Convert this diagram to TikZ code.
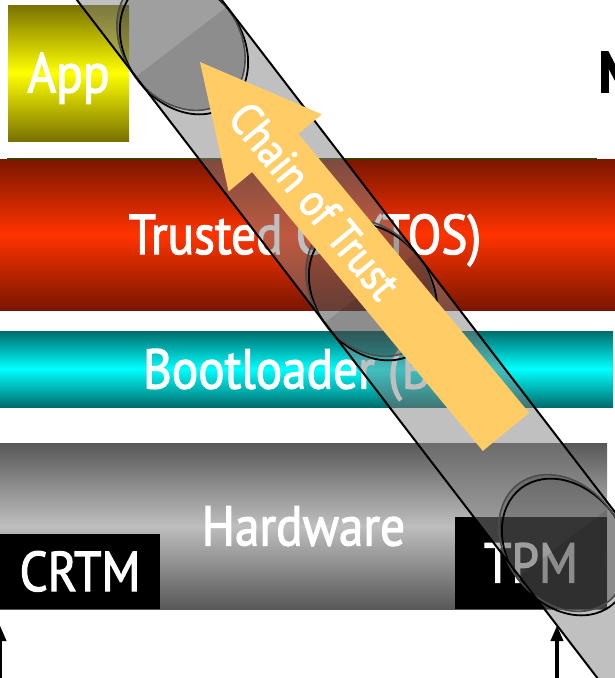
\documentclass[tikz,border=0pt]{standalone}
\usepackage{fontspec}
\setmainfont{PT Sans}[FakeStretch=0.88, FakeBold=2]
\usetikzlibrary{arrows.meta}

\definecolor{appolive}{RGB}{120,114,0}
\definecolor{appyellow}{RGB}{255,255,0}
\definecolor{tosdark}{RGB}{122,22,0}
\definecolor{tosred}{RGB}{255,51,0}
\definecolor{bldark}{RGB}{0,108,108}
\definecolor{blcyan}{RGB}{0,255,255}
\definecolor{hwdark}{RGB}{88,88,88}
\definecolor{hwlight}{RGB}{190,190,190}
\definecolor{tubegray}{RGB}{129,129,129}
\definecolor{trustorange}{RGB}{255,204,102}
\definecolor{rulegreen}{RGB}{0,100,0}

\tikzset{
  layer/.style={inner sep=0pt, text=white, font=\fontsize{56}{56}\selectfont,
    text height=39pt, text depth=0pt},
  band/.style 2 args={layer, top color=#1, bottom color=#1, middle color=#2},
  chip/.style={layer, fill=black},
  feed/.style={-{Triangle[width=12pt,length=16pt]}, line width=4pt, shorten >=16pt},
  tube/.style={fill=tubegray, fill opacity=0.5},
  tubeedge/.style={line width=2pt},
  lens/.style={x radius=74pt, y radius=57.5pt},
}

\begin{document}
\begin{tikzpicture}[x=1pt, y=1pt]
  \path[use as bounding box, clip] (0,0) rectangle (615,-678);

  \coordinate (Ap) at (68.5,-73);
  \coordinate (Tp) at (305,-234.5);
  \coordinate (Bp) at (306.5,-369);
  \coordinate (Hp) at (303.5,-526);
  \coordinate (Cp) at (80,-571.5);
  \coordinate (Kp) at (531,-563);
  \coordinate (crtmfoot) at (0,-700);
  \coordinate (tpmfoot) at (557,-700);

  \node[band={appolive}{appyellow}, minimum width=121pt, minimum height=136pt] (app) at (Ap) {App};
  \node[anchor=west, font=\fontsize{58}{58}\selectfont\bfseries] (mhead) at (595,-72) {M};
  \draw[rulegreen, line width=1.5pt] (7,-158.5) -- (597,-158.5);

  \node[band={tosdark}{tosred}, minimum width=620pt, minimum height=151pt] (tos) at (Tp) {Trusted OS (TOS)};
  \node[band={bldark}{blcyan}, minimum width=613pt, minimum height=76pt] (bl) at (Bp) {Bootloader (BL)};
  \node[band={hwdark}{hwlight}, minimum width=607pt, minimum height=166pt] (hw) at (Hp) {Hardware};
  \node[chip, minimum width=160pt, minimum height=75pt] (crtm) at (Cp) {CRTM};
  \node[chip, minimum width=152pt, minimum height=92pt] (tpm) at (Kp) {TPM};

  \draw[feed] (crtmfoot) -- (crtm.south -| crtmfoot);
  \draw[feed] (tpmfoot) -- (tpm.south -| tpmfoot);

  % the measured tube
  \fill[tube] (0.2,100) -- (691,-800) -- (836,-800) -- (145,100) -- cycle;
  \foreach \cx/\cy in {181/-42, 370/-288, 563/-543} {
    \draw[line width=1.8pt, rotate around={-52.5:(\cx+3,\cy-4)}] (\cx+3,\cy-4) ellipse [lens];
    \begin{scope}[shift={(\cx,\cy)}, rotate=-52.5]
      \fill[black, fill opacity=0.17] (0,0) ellipse [lens];
      \fill[black, fill opacity=0.11] (0,57.5) arc [start angle=90, end angle=-90, lens] -- cycle;
      \draw[black!70, line width=1.6pt] (0,0) ellipse [lens];
    \end{scope}
  }
  \draw[tubeedge] (0.2,100) -- (691,-800);
  \draw[tubeedge] (145,100) -- (836,-800);

  \begin{scope}[shift={(200,-62)}, rotate=-50.4]
    \fill[trustorange] (0,0) -- (118,60.5) -- (118,30) -- (480,30) -- (480,-30)
      -- (118,-30) -- (118,-60.5) -- cycle;
    \node[transform shape, text=white, font=\fontsize{46}{46}\selectfont] (cot) at (180,0) {Chain of Trust};
  \end{scope}
\end{tikzpicture}
\end{document}
